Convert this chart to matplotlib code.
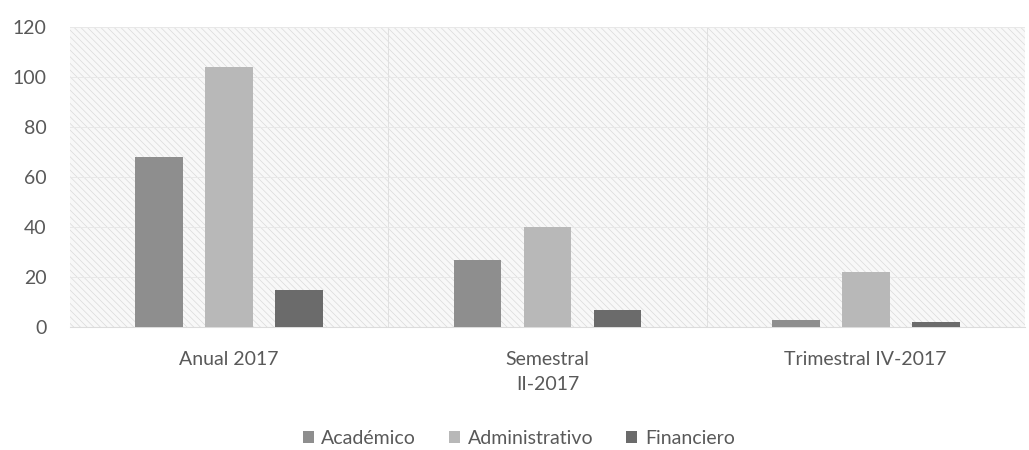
import numpy as np
import matplotlib.pyplot as plt
from matplotlib.patches import Rectangle

categories = ['Anual 2017', 'Semestral\nII-2017', 'Trimestral IV-2017']
series = ['Académico', 'Administrativo', 'Financiero']
academico = [68, 27, 3]
administrativo = [104, 40, 22]
financiero = [15, 7, 2]
colors = ['#8e8e8e', '#b8b8b8', '#6b6b6b']

plt.rcParams['font.family'] = ['Lato', 'DejaVu Sans']
plt.rcParams['hatch.linewidth'] = 0.5

fig = plt.figure(figsize=(10.29, 4.5), dpi=100)
ax = fig.add_axes([0.068, 0.273, 0.928, 0.667])

# hatched background of the plot area
ax.add_patch(Rectangle((0, 0), 1, 1, transform=ax.transAxes, facecolor='#f8f8f8',
                       edgecolor='#dadada', hatch='\\\\\\\\\\', lw=0, zorder=0))

x = np.arange(len(categories))
w = 0.15
step = 0.22
for i, (vals, name) in enumerate(zip([academico, administrativo, financiero], series)):
    ax.bar(x + (i - 1) * step, vals, w, color=colors[i], label=name, zorder=3)

ax.set_xlim(-0.5, 2.5)
ax.set_ylim(0, 120)
ax.set_yticks(range(0, 121, 20))
ax.set_xticks(x)
ax.set_xticklabels(categories, linespacing=1.6)
ax.tick_params(axis='both', length=0, labelsize=14, labelcolor='#595959')
ax.tick_params(axis='x', pad=17)
ax.tick_params(axis='y', pad=17)

ax.grid(axis='y', color='#e8e8e8', lw=0.7, zorder=1)
for sep in [0.5, 1.5]:
    ax.axvline(sep, color='#e0e0e0', lw=0.7, zorder=1)

for s in ['top', 'right', 'left']:
    ax.spines[s].set_visible(False)
ax.spines['bottom'].set_color('#dcdcdc')

ax.legend(loc='center', bbox_to_anchor=(0.47, -0.37), ncol=3, frameon=False,
          fontsize=14, labelcolor='#595959', handlelength=0.55, handleheight=0.55,
          handletextpad=0.4, columnspacing=1.7)

fig.savefig('out.png')
